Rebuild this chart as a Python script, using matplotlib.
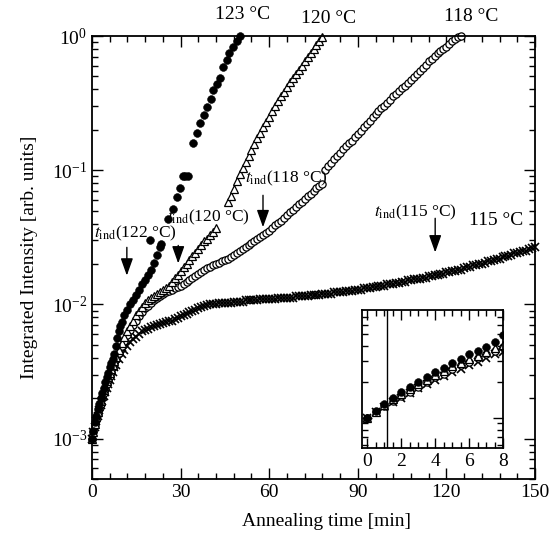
import numpy as np
import matplotlib.pyplot as plt
from matplotlib.ticker import MultipleLocator, NullFormatter

# values, stored as log10(intensity)
t_123 = [0, 0.5, 1, 1.5, 2, 2.5, 3, 3.5, 4, 4.5, 5, 5.5, 6, 6.5, 7, 7.5, 8, 8.5, 9, 9.5, 10,
         11, 12, 13, 14, 15, 16, 17, 18, 19, 20, 21, 22, 23, 23.5, 19.6,
         25.8, 27.5, 28.7, 29.8, 30.8, 31.6, 32.4,
         34.1, 35.5, 36.6, 37.9, 38.8, 40.2, 41.1, 42.2, 43.3, 44.3, 45.6, 46.5, 47.6, 49.0, 50.1]
lg_123 = [-3.00, -2.94, -2.88, -2.83, -2.78, -2.74, -2.70, -2.66, -2.62, -2.58, -2.54, -2.51, -2.47,
          -2.44, -2.41, -2.37, -2.31, -2.25, -2.20, -2.16, -2.13,
          -2.08, -2.04, -2.00, -1.97, -1.93, -1.89, -1.85, -1.82, -1.78, -1.74, -1.69, -1.63, -1.57,
          -1.55, -1.52,
          -1.36, -1.29, -1.20, -1.13, -1.04, -1.04, -1.04,
          -0.80, -0.72, -0.65, -0.59, -0.53, -0.47, -0.40, -0.36, -0.31, -0.23, -0.18, -0.13, -0.08,
          -0.04, 0.0]

t_120 = [0, 0.5, 1, 1.5, 2, 2.5, 3, 3.5, 4, 4.5, 5, 5.5, 6, 6.5, 7, 7.5, 8,
         9, 10, 11, 12, 13, 14, 15, 16, 17, 18, 19, 20, 21, 22, 23, 24, 25,
         26, 27, 28, 29, 30, 31, 32, 33, 34, 35, 36, 37, 38, 39, 40, 41, 42,
         46, 47, 48, 49, 50, 51, 52, 53, 54, 55, 56, 57, 58, 59, 60, 61, 62,
         63, 64, 65, 66, 67, 68, 69, 70, 71, 72, 73, 74, 75, 76, 77, 78]
lg_120 = [-3.00, -2.95, -2.89, -2.84, -2.80, -2.76, -2.72, -2.68, -2.64, -2.61, -2.57, -2.54, -2.51,
          -2.48, -2.45, -2.42, -2.39,
          -2.34, -2.29, -2.24, -2.20, -2.16, -2.12, -2.08, -2.05, -2.02, -1.99, -1.97, -1.95, -1.935,
          -1.92, -1.905, -1.89, -1.875,
          -1.86, -1.83, -1.80, -1.78, -1.75, -1.72, -1.70, -1.67, -1.64, -1.62, -1.59, -1.56, -1.53,
          -1.51, -1.48, -1.46, -1.43,
          -1.24, -1.19, -1.14, -1.08, -1.03, -0.985, -0.94, -0.895, -0.85, -0.805, -0.76, -0.72, -0.68,
          -0.64, -0.60, -0.56, -0.52, -0.485, -0.45, -0.415, -0.38, -0.345, -0.31, -0.28, -0.25,
          -0.22, -0.19, -0.16, -0.13, -0.10, -0.07, -0.04, -0.01]

t_118 = [0, 0.5, 1, 1.5, 2, 2.5, 3, 3.5, 4, 4.5, 5, 5.5, 6, 6.5, 7, 7.5, 8,
         9, 10, 11, 12, 13, 14, 15, 16, 17, 18, 19, 20,
         21, 22, 23, 24, 25, 26, 27, 28, 29, 30, 31, 32, 33, 34, 35, 36, 37, 38, 39, 40,
         41, 42, 43, 44, 45, 46, 47, 48, 49, 50, 51, 52, 53, 54, 55, 56, 57, 58, 59, 60,
         61, 62, 63, 64, 65, 66, 67, 68, 69, 70, 71, 72, 73, 74, 75, 76, 77, 78,
         79, 80, 81, 82, 83, 84, 85, 86, 87, 88, 89, 90, 91, 92, 93, 94, 95, 96, 97, 98, 99, 100,
         101, 102, 103, 104, 105, 106, 107, 108, 109, 110, 111, 112, 113, 114, 115, 116, 117,
         118, 119, 120, 121, 122, 123, 124, 125]
lg_118 = [-3.00, -2.95, -2.90, -2.86, -2.82, -2.78, -2.74, -2.70, -2.66, -2.63, -2.59, -2.56, -2.53,
          -2.50, -2.47, -2.44, -2.41,
          -2.36, -2.31, -2.27, -2.23, -2.19, -2.15, -2.12, -2.09, -2.06, -2.03, -2.01, -1.99,
          -1.97, -1.95, -1.935, -1.92, -1.91, -1.90, -1.89, -1.88, -1.87, -1.86, -1.845, -1.83,
          -1.815, -1.80, -1.785, -1.77, -1.755, -1.74, -1.73, -1.72,
          -1.71, -1.70, -1.69, -1.68, -1.67, -1.66, -1.65, -1.635, -1.62, -1.605, -1.59, -1.575,
          -1.56, -1.545, -1.53, -1.515, -1.50, -1.48, -1.465, -1.45,
          -1.43, -1.41, -1.39, -1.375, -1.355, -1.335, -1.315, -1.295, -1.275, -1.255, -1.235,
          -1.215, -1.195, -1.175, -1.155, -1.135, -1.12, -1.10,
          -1.00, -0.97, -0.945, -0.92, -0.895, -0.87, -0.845, -0.82, -0.80, -0.78, -0.755, -0.73,
          -0.705, -0.68, -0.655, -0.63, -0.605, -0.58, -0.56, -0.54, -0.52, -0.50,
          -0.475, -0.45, -0.43, -0.41, -0.39, -0.37, -0.35, -0.33, -0.305, -0.28, -0.26, -0.24,
          -0.215, -0.19, -0.17, -0.15, -0.13, -0.11, -0.095, -0.08, -0.06, -0.04, -0.025, -0.01, 0.0]

t_115 = [0, 0.5, 1, 1.5, 2, 2.5, 3, 3.5, 4, 4.5, 5, 5.5, 6, 6.5, 7, 7.5, 8,
         9, 10, 11, 12, 13, 14, 15, 16, 17, 18, 19, 20,
         21, 22, 23, 24, 25, 26, 27, 28, 29, 30, 31, 32, 33, 34, 35, 36, 37, 38, 39, 40,
         41, 42, 43, 44, 45, 46, 47, 48, 49, 50, 51, 52, 53, 54, 55, 56, 57, 58, 59, 60,
         61, 62, 63, 64, 65, 66, 67, 68, 69, 70, 71, 72, 73, 74, 75, 76, 77, 78, 79, 80,
         81, 82, 83, 84, 85, 86, 87, 88, 89, 90, 91, 92, 93, 94, 95, 96, 97, 98, 99, 100,
         101, 102, 103, 104, 105, 106, 107, 108, 109, 110, 111, 112, 113, 114, 115, 116, 117,
         118, 119, 120,
         121, 122, 123, 124, 125, 126, 127, 128, 129, 130, 131, 132, 133, 134, 135, 136, 137,
         138, 139, 140, 141, 142, 143, 144, 145, 146, 147, 148, 149, 150]
lg_115 = [-3.00, -2.95, -2.91, -2.87, -2.83, -2.79, -2.75, -2.72, -2.68, -2.65, -2.62, -2.59, -2.56,
          -2.53, -2.50, -2.47, -2.45,
          -2.41, -2.37, -2.34, -2.31, -2.28, -2.26, -2.24, -2.22, -2.20, -2.19, -2.18, -2.17,
          -2.16, -2.15, -2.145, -2.14, -2.13, -2.125, -2.12, -2.11, -2.10, -2.09, -2.08, -2.07,
          -2.06, -2.05, -2.04, -2.03, -2.02, -2.01, -2.005, -2.00,
          -2.00, -2.00, -1.99, -1.99, -1.99, -1.99, -1.99, -1.98, -1.98, -1.98, -1.98, -1.97,
          -1.97, -1.97, -1.97, -1.97, -1.96, -1.96, -1.96, -1.96,
          -1.96, -1.96, -1.95, -1.95, -1.95, -1.95, -1.95, -1.95, -1.94, -1.94, -1.94, -1.94,
          -1.94, -1.93, -1.93, -1.93, -1.93, -1.92, -1.92, -1.92,
          -1.92, -1.91, -1.91, -1.91, -1.91, -1.90, -1.90, -1.90, -1.89, -1.89, -1.89, -1.88,
          -1.88, -1.88, -1.87, -1.87, -1.86, -1.86, -1.86, -1.85,
          -1.85, -1.85, -1.84, -1.84, -1.83, -1.83, -1.82, -1.82, -1.81, -1.81, -1.81, -1.80,
          -1.80, -1.79, -1.79, -1.78, -1.78, -1.77, -1.77, -1.76,
          -1.76, -1.75, -1.75, -1.74, -1.74, -1.73, -1.72, -1.72, -1.71, -1.71, -1.70, -1.70,
          -1.69, -1.68, -1.68, -1.67, -1.66, -1.66, -1.65, -1.64, -1.64, -1.63, -1.62, -1.62,
          -1.61, -1.60, -1.60, -1.59, -1.58, -1.57]

temps = ["123 \u00b0C", "120 \u00b0C", "118 \u00b0C", "115 \u00b0C"]
tind_labels = ["122 \u00b0C", "120 \u00b0C", "118 \u00b0C", "115 \u00b0C"]
tind_times = [11.8, 29.2, 57.9, 116.2]

plt.rcParams['font.family'] = ['Liberation Serif', 'DejaVu Serif']
plt.rcParams['mathtext.fontset'] = 'stix'

fig = plt.figure(figsize=(5.54, 5.37), dpi=100)
ax = fig.add_axes([92 / 554, 58 / 537, 443 / 554, 443 / 537])

styles = [
    (t_115, lg_115, dict(marker='x', ms=6, mew=1.2, mfc='none')),
    (t_118, lg_118, dict(marker='o', ms=5.2, mew=0.9, mfc='white')),
    (t_120, lg_120, dict(marker='^', ms=5.5, mew=0.9, mfc='white')),
    (t_123, lg_123, dict(marker='o', ms=5.6, mew=0.4, mfc='black')),
]

for t, lg, st in styles:
    ax.plot(t, np.power(10.0, lg), ls='none', mec='black', clip_on=False, **st)

ax.set_yscale('log')
ax.set_ylim(5e-4, 1)
ax.set_xlim(0, 150)
ax.xaxis.set_major_locator(MultipleLocator(30))
ax.xaxis.set_minor_locator(MultipleLocator(6))
ax.tick_params(which='both', direction='in', top=True, right=True, labelsize=14, width=1)
ax.tick_params(which='major', length=8)
ax.tick_params(which='minor', length=4)
for sp in ax.spines.values():
    sp.set_linewidth(1.3)

ax.set_xlabel("Annealing time [min]", fontsize=14, labelpad=9)
ax.xaxis.label.set_x(0.53)
ax.set_ylabel("Integrated Intensity [arb. units]", fontsize=14, labelpad=10)

# temperature labels
ax.text(51, 1.44, temps[0], fontsize=14, ha='center', va='center', clip_on=False)
ax.text(80, 1.36, temps[1], fontsize=14, ha='center', va='center', clip_on=False)
ax.text(128.5, 1.39, temps[2], fontsize=14, ha='center', va='center', clip_on=False)
ax.text(137, 0.0424, temps[3], fontsize=14, ha='center', va='center')

# induction-time arrows
tind_text = [(14.6, 0.034), (39.5, 0.0445), (65.7, 0.087), (109.4, 0.0486)]
tind_arrow = [(0.0266, 0.0164), (0.0275, 0.0202), (0.065, 0.0376), (0.0438, 0.0244)]
for lab, tt, (tx, ty), (y0, y1) in zip(tind_labels, tind_times, tind_text, tind_arrow):
    ax.text(tx, ty, r"$t_{\mathrm{ind}}$(" + lab + ")", fontsize=12.5, ha='center', va='center')
    ax.annotate('', xy=(tt, y1), xytext=(tt, y0),
                arrowprops=dict(arrowstyle='-|>,head_length=0.7,head_width=0.25',
                                color='black', lw=1, mutation_scale=15,
                                shrinkA=0, shrinkB=0))

# inset: first minutes
ax_in = fig.add_axes([362 / 554, 89 / 537, 141 / 554, 138 / 537])
for t, lg, st in styles:
    ax_in.plot(t, np.power(10.0, lg), ls='none', mec='black', **st)
ax_in.axvline(1.15, color='black', lw=1)
ax_in.set_yscale('log')
ax_in.set_ylim(10 ** -3.25, 10 ** -2.1)
ax_in.set_xlim(-0.3, 8)
ax_in.xaxis.set_major_locator(MultipleLocator(2))
ax_in.xaxis.set_minor_locator(MultipleLocator(0.5))
ax_in.yaxis.set_major_formatter(NullFormatter())
ax_in.yaxis.set_minor_formatter(NullFormatter())
ax_in.tick_params(which='both', direction='in', top=True, right=True, labelsize=14, width=1)
ax_in.tick_params(which='major', length=7)
ax_in.tick_params(which='minor', length=4)
for sp in ax_in.spines.values():
    sp.set_linewidth(1.3)

plt.savefig("out.png", dpi=100)
